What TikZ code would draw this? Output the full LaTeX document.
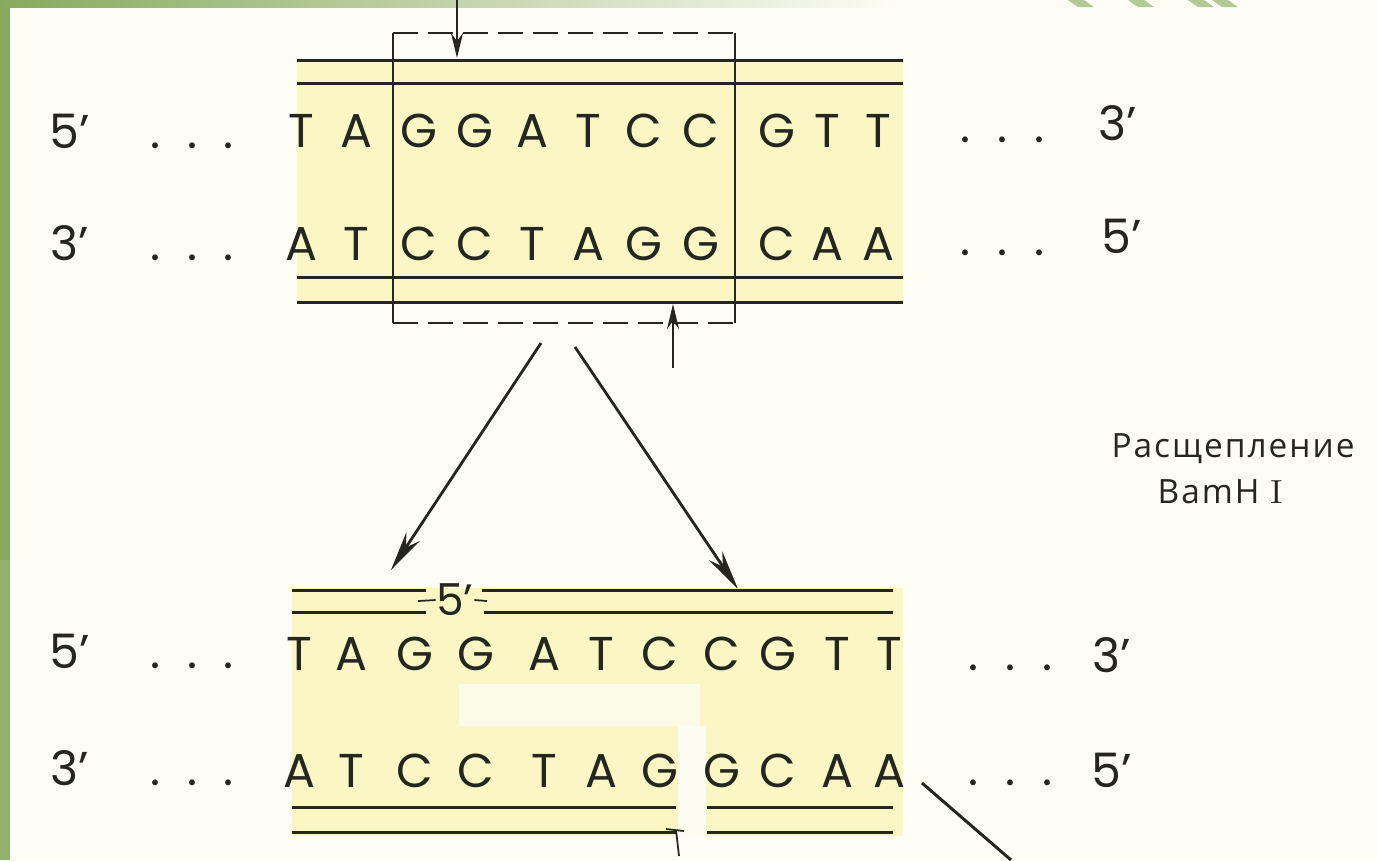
\documentclass[tikz,border=0pt]{standalone}
\usepackage{fontspec}
\setsansfont{Poppins}
\newfontfamily\cyrfont[LetterSpace=6]{Open Sans}
\usepackage{tikz}
\usetikzlibrary{arrows.meta,positioning}
\definecolor{pagebg}{RGB}{253,253,245}
\definecolor{dnayellow}{RGB}{250,247,196}
\definecolor{slidegreen}{RGB}{134,170,94}
\definecolor{slidelight}{RGB}{146,180,106}
\definecolor{stripegreen}{RGB}{176,203,150}
\definecolor{inkdark}{RGB}{38,38,32}

\newcommand{\spdots}{.\hspace{0.27cm}.\hspace{0.27cm}.}

\begin{document}
\begin{tikzpicture}[x=0.01cm, y=-0.01cm,
    nuc/.style={font=\sffamily\fontsize{13.5}{14}\selectfont, text=inkdark, inner sep=0pt, anchor=base},
    endlabel/.style={font=\sffamily\fontsize{12.5}{13}\selectfont, text=inkdark, inner sep=0pt},
    strand/.style={draw=inkdark, line width=0.85pt},
    cutbox/.style={draw=inkdark, line width=0.6pt, dash pattern=on 0.25cm off 0.1cm},
    bigarrow/.style={draw=inkdark, line width=0.8pt, -{Stealth[length=4mm, width=1.6mm]}},
    nick/.style={draw=inkdark, line width=0.6pt, -{Stealth[length=2.5mm, width=1.2mm]}}]
    \useasboundingbox (0,0) rectangle (1377,860);
    \fill[pagebg] (0,0) rectangle (1377,860);

    % slide frame
    \fill[slidegreen] (0,0) rectangle (10,560);
    \fill[slidelight] (0,560) rectangle (10,860);
    \shade[left color=slidegreen, right color=pagebg] (0,0) rectangle (900,7);
    \foreach \x in {1068,1128,1188,1212}
        \fill[stripegreen] (\x,0) -- (\x+16,0) -- (\x+26,7) -- (\x+10,7) -- cycle;

    % upper duplex
    \fill[dnayellow] (297,60) rectangle (903,302);
    \foreach \y in {60,83,277,302}
        \draw[strand] (297,\y) -- (903,\y);
    \foreach \b/\x [count=\i] in {T/301,A/356,G/419,G/475,A/532,T/588,C/644,C/701,G/777,T/827,T/878}
        \node[nuc] (ua\i) at (\x,147) {\b};
    \foreach \b/\x [count=\i] in {A/301,T/356,C/419,C/475,T/532,A/588,G/644,G/701,C/777,A/827,A/878}
        \node[nuc] (ub\i) at (\x,260) {\b};
    \node[nuc] (ua5) at (70,148) {5’};
    \node[nuc] (uadl) at (192,148) {\spdots};
    \node[nuc] (uadr) at (1002,142) {\spdots};
    \node[nuc] (ua3) at (1118,140) {3’};
    \node[nuc] (ub3) at (70,260) {3’};
    \node[nuc] (ubdl) at (192,260) {\spdots};
    \node[nuc] (ubdr) at (1002,255) {\spdots};
    \node[nuc] (ub5) at (1122,253) {5’};

    % recognition site
    \coordinate (boxtl) at (393,33);
    \coordinate (boxbr) at (735,323);
    \draw[cutbox] (boxtl) -- (boxtl -| boxbr);
    \draw[cutbox] (boxtl |- boxbr) -- (boxbr);
    \draw[inkdark, line width=0.5pt] (boxtl) -- (boxtl |- boxbr);
    \draw[inkdark, line width=0.5pt] (boxtl -| boxbr) -- (boxbr);

    % cut positions
    \coordinate (topcut) at (457,0);
    \coordinate (topsite) at (457,58);
    \coordinate (botcut) at (673,368);
    \coordinate (botsite) at (673,304);
    \draw[nick] (topcut) -- (topsite);
    \draw[nick] (botcut) -- (botsite);

    % cleavage
    \coordinate (splitl) at (541,343);
    \coordinate (splitr) at (575,347);
    \coordinate (leftend) at (391,570);
    \coordinate (rightend) at (738,589);
    \draw[bigarrow] (splitl) -- (leftend);
    \draw[bigarrow] (splitr) -- (rightend);
    \node[font=\cyrfont\fontsize{9.5}{10}\selectfont, text=inkdark, anchor=base] (enz) at (1233,457) {Расщепление};
    \node[font=\cyrfont\fontsize{9.5}{10}\selectfont, text=inkdark, anchor=base] (enzname) at (1220,503) {BamH {\rmfamily I}};

    % lower duplex
    \fill[dnayellow] (292,588) rectangle (903,836);
    \fill[pagebg, opacity=0.75] (459,684) rectangle (700,726);
    \fill[pagebg, opacity=0.9] (678,726) rectangle (706,842);
    \draw[strand] (292,590) -- (426,590);
    \draw[strand] (482,590) -- (893,590);
    \draw[strand] (292,612) -- (426,612);
    \draw[strand] (484,612) -- (893,612);
    \node[endlabel] (sticky) at (455,600) {5’};
    \draw[inkdark, line width=0.5pt] (418,601) -- (sticky.west);
    \draw[inkdark, line width=0.5pt] (sticky.east) -- (487,601);
    \foreach \y in {807,832} {
        \draw[strand] (292,\y) -- (676,\y);
        \draw[strand] (707,\y) -- (893,\y);
    }
    \draw[inkdark, line width=0.5pt] (666,829) -- (684,831);
    \draw[inkdark, line width=0.5pt] (676,830) -- (679,856);
    \foreach \b/\x [count=\i] in {T/299,A/351,G/415,G/476,A/544,T/601,C/660,C/722,G/778,T/837,T/889}
        \node[nuc] (la\i) at (\x,670) {\b};
    \foreach \b/\x [count=\i] in {A/299,T/351,C/415,C/476,T/544,A/601,G/660,G/722,C/778,A/837,A/889}
        \node[nuc] (lb\i) at (\x,787) {\b};
    \node[nuc] (la5) at (70,668) {5’};
    \node[nuc] (ladl) at (192,668) {\spdots};
    \node[nuc] (ladr) at (1010,670) {\spdots};
    \node[nuc] (la3) at (1112,672) {3’};
    \node[nuc] (lb3) at (70,785) {3’};
    \node[nuc] (lbdl) at (192,785) {\spdots};
    \node[nuc] (lbdr) at (1010,785) {\spdots};
    \node[nuc] (lb5) at (1112,787) {5’};
    \coordinate (tailstart) at (922,783);
    \coordinate (tailend) at (1011,860);
    \draw[strand] (tailstart) -- (tailend);
\end{tikzpicture}
\end{document}
